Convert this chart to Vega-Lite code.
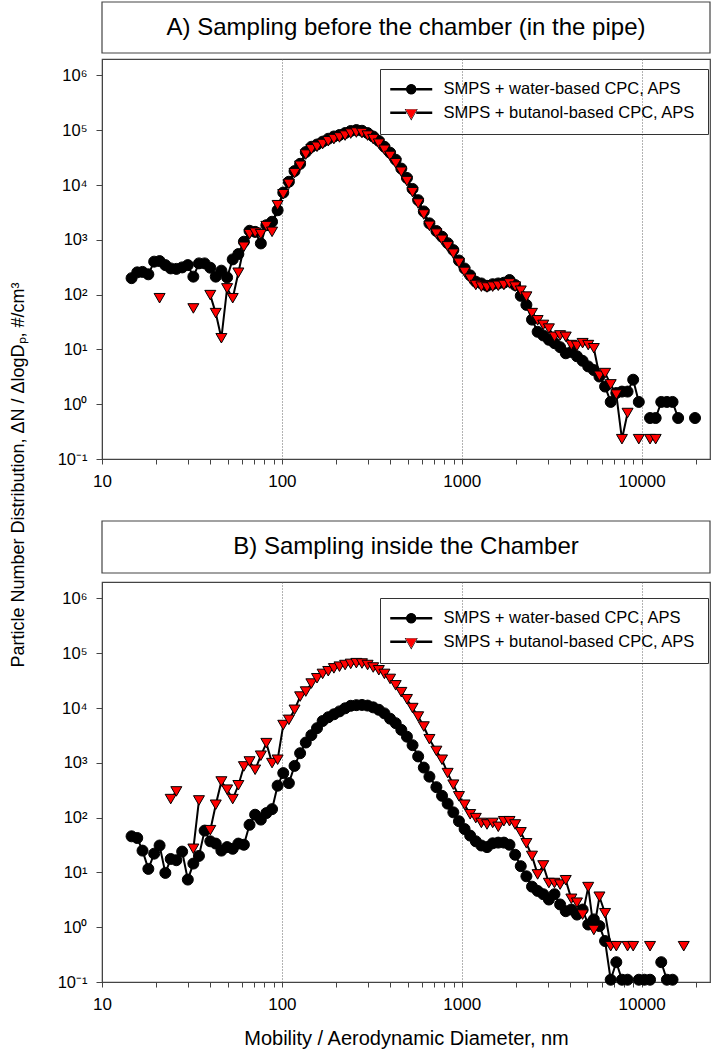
{
"$schema": "https://vega.github.io/schema/vega-lite/v6.json",
"padding": {"left": 9, "top": 1, "right": 5, "bottom": 1},
"title": {"text": "Particle Number Distribution, ΔN / ΔlogDₚ, #/cm³", "orient": "left", "anchor": "middle", "fontSize": 18, "fontWeight": "normal", "font": "Liberation Sans", "color": "black", "offset": 29, "dx": 50},
"config": {
  "view": {"stroke": "#444", "strokeWidth": 1.2},
  "font": "Liberation Sans",
  "axis": {"labelFont": "Liberation Sans", "titleFont": "Liberation Sans", "labelColor": "black", "titleColor": "black", "domainColor": "#444", "tickColor": "#444", "titleFontWeight": "normal"},
  "legend": {"title": null, "orient": "none", "legendX": 278, "strokeColor": "#333", "fillColor": "transparent", "padding": 12, "labelFontSize": 16.5, "labelFont": "Liberation Sans", "labelColor": "black", "labelOffset": 35, "labelLimit": 400, "symbolSize": 196, "symbolOpacity": 1, "symbolStrokeColor": "transparent", "symbolStrokeWidth": 0, "rowPadding": 6.5}
},
"resolve": {"scale": {"shape": "independent", "fill": "independent"}, "legend": {"shape": "independent", "fill": "independent"}},
"datasets": {
"pts": [
{"p":"A","s":"w","d":14.6,"v":200},{"p":"A","s":"w","d":15.7,"v":255},{"p":"A","s":"w","d":16.8,"v":260},{"p":"A","s":"w","d":18.1,"v":235},{"p":"A","s":"w","d":19.5,"v":400},{"p":"A","s":"w","d":20.9,"v":410},{"p":"A","s":"w","d":22.5,"v":346},{"p":"A","s":"w","d":24.1,"v":301},{"p":"A","s":"w","d":25.9,"v":295},{"p":"A","s":"w","d":27.9,"v":314},{"p":"A","s":"w","d":30.0,"v":346},{"p":"A","s":"w","d":32.2,"v":213},{"p":"A","s":"w","d":34.6,"v":372},{"p":"A","s":"w","d":37.2,"v":372},{"p":"A","s":"w","d":40.0,"v":310},{"p":"A","s":"w","d":42.9,"v":213},{"p":"A","s":"w","d":46.1,"v":274},{"p":"A","s":"w","d":49.6,"v":206},{"p":"A","s":"w","d":53.3,"v":440},{"p":"A","s":"w","d":57.3,"v":550},{"p":"A","s":"w","d":61.5,"v":925},{"p":"A","s":"w","d":66.1,"v":1465},{"p":"A","s":"w","d":71.0,"v":1400},{"p":"A","s":"w","d":76.4,"v":860},{"p":"A","s":"w","d":82.0,"v":1850},{"p":"A","s":"w","d":88.2,"v":2140},{"p":"A","s":"w","d":94.7,"v":3470},{"p":"A","s":"w","d":101.8,"v":7300},{"p":"A","s":"w","d":109.4,"v":11500},{"p":"A","s":"w","d":117.6,"v":18000},{"p":"A","s":"w","d":126.3,"v":24400},{"p":"A","s":"w","d":135.8,"v":40000},{"p":"A","s":"w","d":145.9,"v":50000},{"p":"A","s":"w","d":156.8,"v":55000},{"p":"A","s":"w","d":168.5,"v":62000},{"p":"A","s":"w","d":181.1,"v":70000},{"p":"A","s":"w","d":194.6,"v":77000},{"p":"A","s":"w","d":209.1,"v":82000},{"p":"A","s":"w","d":224.7,"v":89000},{"p":"A","s":"w","d":241.4,"v":97000},{"p":"A","s":"w","d":259.5,"v":101000},{"p":"A","s":"w","d":278.8,"v":98000},{"p":"A","s":"w","d":299.6,"v":89000},{"p":"A","s":"w","d":322.0,"v":77000},{"p":"A","s":"w","d":346.0,"v":64000},{"p":"A","s":"w","d":371.8,"v":50000},{"p":"A","s":"w","d":399.6,"v":39000},{"p":"A","s":"w","d":429.4,"v":29000},{"p":"A","s":"w","d":461.4,"v":20000},{"p":"A","s":"w","d":495.8,"v":13500},{"p":"A","s":"w","d":532.8,"v":8500},{"p":"A","s":"w","d":572.5,"v":5300},{"p":"A","s":"w","d":615.3,"v":3300},{"p":"A","s":"w","d":661.2,"v":2000},
{"p":"A","s":"w","d":723,"v":1450},{"p":"A","s":"w","d":777,"v":1140},{"p":"A","s":"w","d":835,"v":870},{"p":"A","s":"w","d":898,"v":650},{"p":"A","s":"w","d":965,"v":420},{"p":"A","s":"w","d":1037,"v":300},{"p":"A","s":"w","d":1114,"v":225},{"p":"A","s":"w","d":1197,"v":172},{"p":"A","s":"w","d":1286,"v":160},{"p":"A","s":"w","d":1382,"v":145},{"p":"A","s":"w","d":1486,"v":155},{"p":"A","s":"w","d":1596,"v":160},{"p":"A","s":"w","d":1715,"v":165},{"p":"A","s":"w","d":1843,"v":185},{"p":"A","s":"w","d":1981,"v":150},{"p":"A","s":"w","d":2129,"v":95},{"p":"A","s":"w","d":2288,"v":65},{"p":"A","s":"w","d":2458,"v":35},{"p":"A","s":"w","d":2642,"v":21},{"p":"A","s":"w","d":2839,"v":18},{"p":"A","s":"w","d":3051,"v":15},{"p":"A","s":"w","d":3278,"v":13},{"p":"A","s":"w","d":3523,"v":11},{"p":"A","s":"w","d":3786,"v":8.5},{"p":"A","s":"w","d":4068,"v":9},{"p":"A","s":"w","d":4371,"v":7.5},{"p":"A","s":"w","d":4698,"v":6.2},{"p":"A","s":"w","d":5048,"v":4.9},{"p":"A","s":"w","d":5425,"v":4.2},{"p":"A","s":"w","d":5829,"v":3.2},{"p":"A","s":"w","d":6264,"v":2.1},{"p":"A","s":"w","d":6732,"v":1.1},{"p":"A","s":"w","d":7234,"v":1.6},{"p":"A","s":"w","d":7774,"v":1.7},{"p":"A","s":"w","d":8354,"v":1.7},{"p":"A","s":"w","d":8977,"v":2.8},{"p":"A","s":"w","d":9647,"v":1.1},{"p":"A","s":"w","d":10370,"v":null},{"p":"A","s":"w","d":11140,"v":0.56},{"p":"A","s":"w","d":11970,"v":0.56},{"p":"A","s":"w","d":12860,"v":1.1},{"p":"A","s":"w","d":13820,"v":1.1},{"p":"A","s":"w","d":14860,"v":1.1},{"p":"A","s":"w","d":15960,"v":0.56},{"p":"A","s":"w","d":17150,"v":null},{"p":"A","s":"w","d":19810,"v":0.56},
{"p":"A","s":"b","d":20.9,"v":86},{"p":"A","s":"b","d":22.5,"v":null},{"p":"A","s":"b","d":32.2,"v":56},{"p":"A","s":"b","d":34.6,"v":null},{"p":"A","s":"b","d":40.0,"v":98},{"p":"A","s":"b","d":42.9,"v":46},{"p":"A","s":"b","d":46.1,"v":16},{"p":"A","s":"b","d":49.6,"v":130},{"p":"A","s":"b","d":53.3,"v":86},{"p":"A","s":"b","d":57.3,"v":251},{"p":"A","s":"b","d":61.5,"v":748},{"p":"A","s":"b","d":66.1,"v":1270},{"p":"A","s":"b","d":71.0,"v":1350},{"p":"A","s":"b","d":76.4,"v":1270},{"p":"A","s":"b","d":82.0,"v":1780},{"p":"A","s":"b","d":88.2,"v":1400},{"p":"A","s":"b","d":94.7,"v":4290},{"p":"A","s":"b","d":101.8,"v":6800},{"p":"A","s":"b","d":109.4,"v":10500},{"p":"A","s":"b","d":117.6,"v":16500},{"p":"A","s":"b","d":126.3,"v":22500},{"p":"A","s":"b","d":135.8,"v":36000},{"p":"A","s":"b","d":145.9,"v":45000},{"p":"A","s":"b","d":156.8,"v":50000},{"p":"A","s":"b","d":168.5,"v":56000},{"p":"A","s":"b","d":181.1,"v":63000},{"p":"A","s":"b","d":194.6,"v":69000},{"p":"A","s":"b","d":209.1,"v":74000},{"p":"A","s":"b","d":224.7,"v":80000},{"p":"A","s":"b","d":241.4,"v":87000},{"p":"A","s":"b","d":259.5,"v":91000},{"p":"A","s":"b","d":278.8,"v":89000},{"p":"A","s":"b","d":299.6,"v":80000},{"p":"A","s":"b","d":322.0,"v":69000},{"p":"A","s":"b","d":346.0,"v":57000},{"p":"A","s":"b","d":371.8,"v":44000},{"p":"A","s":"b","d":399.6,"v":34000},{"p":"A","s":"b","d":429.4,"v":25000},{"p":"A","s":"b","d":461.4,"v":17500},{"p":"A","s":"b","d":495.8,"v":11800},{"p":"A","s":"b","d":532.8,"v":7400},{"p":"A","s":"b","d":572.5,"v":4600},{"p":"A","s":"b","d":615.3,"v":2900},{"p":"A","s":"b","d":661.2,"v":1800},
{"p":"A","s":"b","d":723,"v":1300},{"p":"A","s":"b","d":777,"v":1000},{"p":"A","s":"b","d":835,"v":760},{"p":"A","s":"b","d":898,"v":560},{"p":"A","s":"b","d":965,"v":380},{"p":"A","s":"b","d":1037,"v":260},{"p":"A","s":"b","d":1114,"v":195},{"p":"A","s":"b","d":1197,"v":150},{"p":"A","s":"b","d":1286,"v":140},{"p":"A","s":"b","d":1382,"v":135},{"p":"A","s":"b","d":1486,"v":140},{"p":"A","s":"b","d":1596,"v":145},{"p":"A","s":"b","d":1715,"v":150},{"p":"A","s":"b","d":1843,"v":160},{"p":"A","s":"b","d":1981,"v":140},{"p":"A","s":"b","d":2129,"v":118},{"p":"A","s":"b","d":2288,"v":92},{"p":"A","s":"b","d":2458,"v":46},{"p":"A","s":"b","d":2642,"v":34},{"p":"A","s":"b","d":2839,"v":28},{"p":"A","s":"b","d":3051,"v":24},{"p":"A","s":"b","d":3278,"v":17},{"p":"A","s":"b","d":3523,"v":18},{"p":"A","s":"b","d":3786,"v":17},{"p":"A","s":"b","d":4068,"v":12},{"p":"A","s":"b","d":4371,"v":11.6},{"p":"A","s":"b","d":4698,"v":13},{"p":"A","s":"b","d":5048,"v":12},{"p":"A","s":"b","d":5425,"v":10.5},{"p":"A","s":"b","d":5829,"v":3.3},{"p":"A","s":"b","d":6264,"v":3.7},{"p":"A","s":"b","d":6732,"v":2.3},{"p":"A","s":"b","d":7234,"v":1.5},{"p":"A","s":"b","d":7774,"v":0.23},{"p":"A","s":"b","d":8354,"v":0.69},{"p":"A","s":"b","d":8977,"v":null},{"p":"A","s":"b","d":9647,"v":0.23},{"p":"A","s":"b","d":10370,"v":null},{"p":"A","s":"b","d":11140,"v":0.23},{"p":"A","s":"b","d":11970,"v":0.23},
{"p":"B","s":"w","d":14.6,"v":45.6},{"p":"B","s":"w","d":15.7,"v":42.5},{"p":"B","s":"w","d":16.8,"v":25},{"p":"B","s":"w","d":18.1,"v":11.6},{"p":"B","s":"w","d":19.5,"v":22},{"p":"B","s":"w","d":20.9,"v":31},{"p":"B","s":"w","d":22.5,"v":9.8},{"p":"B","s":"w","d":24.1,"v":17.6},{"p":"B","s":"w","d":25.9,"v":16.7},{"p":"B","s":"w","d":27.9,"v":24},{"p":"B","s":"w","d":30.0,"v":7.4},{"p":"B","s":"w","d":32.2,"v":14.5},{"p":"B","s":"w","d":34.6,"v":20},{"p":"B","s":"w","d":37.2,"v":58},{"p":"B","s":"w","d":40.0,"v":37},{"p":"B","s":"w","d":42.9,"v":33.6},{"p":"B","s":"w","d":46.1,"v":25},{"p":"B","s":"w","d":49.6,"v":29},{"p":"B","s":"w","d":53.3,"v":27},{"p":"B","s":"w","d":57.3,"v":33.6},{"p":"B","s":"w","d":61.5,"v":32},{"p":"B","s":"w","d":66.1,"v":74},{"p":"B","s":"w","d":71.0,"v":113},{"p":"B","s":"w","d":76.4,"v":92},{"p":"B","s":"w","d":82.0,"v":121},{"p":"B","s":"w","d":88.2,"v":143},{"p":"B","s":"w","d":94.7,"v":383},{"p":"B","s":"w","d":101.8,"v":650},{"p":"B","s":"w","d":109.4,"v":427},{"p":"B","s":"w","d":117.6,"v":880},{"p":"B","s":"w","d":126.3,"v":1500},{"p":"B","s":"w","d":135.8,"v":2350},{"p":"B","s":"w","d":145.9,"v":3200},{"p":"B","s":"w","d":156.8,"v":4300},{"p":"B","s":"w","d":168.5,"v":5800},{"p":"B","s":"w","d":181.1,"v":6800},{"p":"B","s":"w","d":194.6,"v":7700},{"p":"B","s":"w","d":209.1,"v":8700},{"p":"B","s":"w","d":224.7,"v":9900},{"p":"B","s":"w","d":241.4,"v":11000},{"p":"B","s":"w","d":259.5,"v":11300},{"p":"B","s":"w","d":278.8,"v":11400},{"p":"B","s":"w","d":299.6,"v":11100},{"p":"B","s":"w","d":322.0,"v":10300},{"p":"B","s":"w","d":346.0,"v":9300},{"p":"B","s":"w","d":371.8,"v":8000},{"p":"B","s":"w","d":399.6,"v":6400},{"p":"B","s":"w","d":429.4,"v":5300},{"p":"B","s":"w","d":461.4,"v":4000},{"p":"B","s":"w","d":495.8,"v":3000},{"p":"B","s":"w","d":532.8,"v":2100},{"p":"B","s":"w","d":572.5,"v":1310},{"p":"B","s":"w","d":615.3,"v":820},{"p":"B","s":"w","d":661.2,"v":560},
{"p":"B","s":"w","d":723,"v":360},{"p":"B","s":"w","d":777,"v":250},{"p":"B","s":"w","d":835,"v":180},{"p":"B","s":"w","d":898,"v":125},{"p":"B","s":"w","d":965,"v":86},{"p":"B","s":"w","d":1037,"v":62},{"p":"B","s":"w","d":1114,"v":47},{"p":"B","s":"w","d":1197,"v":37},{"p":"B","s":"w","d":1286,"v":31},{"p":"B","s":"w","d":1382,"v":29},{"p":"B","s":"w","d":1486,"v":34},{"p":"B","s":"w","d":1596,"v":35},{"p":"B","s":"w","d":1715,"v":35},{"p":"B","s":"w","d":1843,"v":32},{"p":"B","s":"w","d":1981,"v":21},{"p":"B","s":"w","d":2129,"v":13},{"p":"B","s":"w","d":2288,"v":8.5},{"p":"B","s":"w","d":2458,"v":5.5},{"p":"B","s":"w","d":2642,"v":4.6},{"p":"B","s":"w","d":2839,"v":4.0},{"p":"B","s":"w","d":3051,"v":3.2},{"p":"B","s":"w","d":3278,"v":4.0},{"p":"B","s":"w","d":3523,"v":2.6},{"p":"B","s":"w","d":3786,"v":1.96},{"p":"B","s":"w","d":4068,"v":2.1},{"p":"B","s":"w","d":4371,"v":1.7},{"p":"B","s":"w","d":4698,"v":2.1},{"p":"B","s":"w","d":5048,"v":1.12},{"p":"B","s":"w","d":5425,"v":1.39},{"p":"B","s":"w","d":5829,"v":1.05},{"p":"B","s":"w","d":6264,"v":0.56},{"p":"B","s":"w","d":6732,"v":0.11},{"p":"B","s":"w","d":7234,"v":0.23},{"p":"B","s":"w","d":7774,"v":0.11},{"p":"B","s":"w","d":8354,"v":0.11},{"p":"B","s":"w","d":8977,"v":null},{"p":"B","s":"w","d":9647,"v":0.11},{"p":"B","s":"w","d":10370,"v":0.11},{"p":"B","s":"w","d":11140,"v":0.11},{"p":"B","s":"w","d":11970,"v":null},{"p":"B","s":"w","d":12860,"v":0.23},{"p":"B","s":"w","d":13820,"v":0.11},{"p":"B","s":"w","d":14860,"v":0.11},
{"p":"B","s":"b","d":24.1,"v":218},{"p":"B","s":"b","d":25.9,"v":301},{"p":"B","s":"b","d":27.9,"v":null},{"p":"B","s":"b","d":32.2,"v":27},{"p":"B","s":"b","d":34.6,"v":206},{"p":"B","s":"b","d":37.2,"v":null},{"p":"B","s":"b","d":40.0,"v":59},{"p":"B","s":"b","d":42.9,"v":172},{"p":"B","s":"b","d":46.1,"v":457},{"p":"B","s":"b","d":49.6,"v":324},{"p":"B","s":"b","d":53.3,"v":218},{"p":"B","s":"b","d":57.3,"v":390},{"p":"B","s":"b","d":61.5,"v":860},{"p":"B","s":"b","d":66.1,"v":1060},{"p":"B","s":"b","d":71.0,"v":748},{"p":"B","s":"b","d":76.4,"v":1350},{"p":"B","s":"b","d":82.0,"v":2290},{"p":"B","s":"b","d":88.2,"v":990},{"p":"B","s":"b","d":94.7,"v":1140},{"p":"B","s":"b","d":101.8,"v":4900},{"p":"B","s":"b","d":109.4,"v":6100},{"p":"B","s":"b","d":117.6,"v":9300},{"p":"B","s":"b","d":126.3,"v":16200},{"p":"B","s":"b","d":135.8,"v":20000},{"p":"B","s":"b","d":145.9,"v":28000},{"p":"B","s":"b","d":156.8,"v":35000},{"p":"B","s":"b","d":168.5,"v":42000},{"p":"B","s":"b","d":181.1,"v":47000},{"p":"B","s":"b","d":194.6,"v":53000},{"p":"B","s":"b","d":209.1,"v":57000},{"p":"B","s":"b","d":224.7,"v":61000},{"p":"B","s":"b","d":241.4,"v":64000},{"p":"B","s":"b","d":259.5,"v":66000},{"p":"B","s":"b","d":278.8,"v":65000},{"p":"B","s":"b","d":299.6,"v":61000},{"p":"B","s":"b","d":322.0,"v":55000},{"p":"B","s":"b","d":346.0,"v":49000},{"p":"B","s":"b","d":371.8,"v":42000},{"p":"B","s":"b","d":399.6,"v":34000},{"p":"B","s":"b","d":429.4,"v":26000},{"p":"B","s":"b","d":461.4,"v":19500},{"p":"B","s":"b","d":495.8,"v":14500},{"p":"B","s":"b","d":532.8,"v":10000},{"p":"B","s":"b","d":572.5,"v":7000},{"p":"B","s":"b","d":615.3,"v":4600},{"p":"B","s":"b","d":661.2,"v":2700},
{"p":"B","s":"b","d":723,"v":1650},{"p":"B","s":"b","d":777,"v":1140},{"p":"B","s":"b","d":835,"v":650},{"p":"B","s":"b","d":898,"v":400},{"p":"B","s":"b","d":965,"v":245},{"p":"B","s":"b","d":1037,"v":172},{"p":"B","s":"b","d":1114,"v":115},{"p":"B","s":"b","d":1197,"v":98},{"p":"B","s":"b","d":1286,"v":80},{"p":"B","s":"b","d":1382,"v":75},{"p":"B","s":"b","d":1486,"v":80},{"p":"B","s":"b","d":1596,"v":68},{"p":"B","s":"b","d":1715,"v":86},{"p":"B","s":"b","d":1843,"v":86},{"p":"B","s":"b","d":1981,"v":75},{"p":"B","s":"b","d":2129,"v":54},{"p":"B","s":"b","d":2288,"v":34},{"p":"B","s":"b","d":2458,"v":20},{"p":"B","s":"b","d":2642,"v":9.2},{"p":"B","s":"b","d":2839,"v":13.4},{"p":"B","s":"b","d":3051,"v":6.4},{"p":"B","s":"b","d":3278,"v":6.4},{"p":"B","s":"b","d":3523,"v":6.0},{"p":"B","s":"b","d":3786,"v":7.2},{"p":"B","s":"b","d":4068,"v":3.3},{"p":"B","s":"b","d":4371,"v":2.8},{"p":"B","s":"b","d":4698,"v":1.7},{"p":"B","s":"b","d":5048,"v":5.4},{"p":"B","s":"b","d":5425,"v":0.89},{"p":"B","s":"b","d":5829,"v":3.6},{"p":"B","s":"b","d":6264,"v":1.8},{"p":"B","s":"b","d":6732,"v":0.45},{"p":"B","s":"b","d":7234,"v":0.45},{"p":"B","s":"b","d":7774,"v":null},{"p":"B","s":"b","d":8354,"v":0.45},{"p":"B","s":"b","d":8977,"v":0.45},{"p":"B","s":"b","d":9647,"v":null},{"p":"B","s":"b","d":11140,"v":0.45},{"p":"B","s":"b","d":11970,"v":null},{"p":"B","s":"b","d":17150,"v":0.45}
]
},
"spacing": 30,
"vconcat": [
 {"spacing": 4, "resolve": {"legend": {"shape": "independent", "fill": "independent"}}, "vconcat": [
  {"width": 608, "height": 51, "data": {"values": [{"t": "A) Sampling before the chamber (in the pipe)"}]},
   "layer": [
     {"mark": {"type": "rect", "fill": "white", "stroke": "#444", "strokeWidth": 1.2}, "encoding": {}},
     {"mark": {"type": "text", "fontSize": 24, "font": "Liberation Sans", "color": "black"}, "encoding": {"text": {"field": "t"}}}
   ]},
  {"width": 608, "height": 400, "data": {"name": "pts"},
   "transform": [{"filter": "datum.p === 'A'"}],
   "resolve": {"scale": {"shape": "independent", "fill": "independent"}, "legend": {"shape": "independent", "fill": "independent"}},
   "encoding": {
     "x": {"field": "d", "type": "quantitative", "scale": {"type": "log", "domain": [10, 24000], "nice": false},
       "axis": {"title": null, "values": [10,20,30,40,50,60,70,80,90,100,200,300,400,500,600,700,800,900,1000,2000,3000,4000,5000,6000,7000,8000,9000,10000,20000], "labelExpr": "datum.value == 10 || datum.value == 100 || datum.value == 1000 || datum.value == 10000 ? '' + datum.value : ''", "labelOverlap": false, "labelFlush": false, "labelFontSize": 17, "tickSize": 5, "labelPadding": 9, "grid": true, "gridColor": "#666", "gridDash": [1, 2], "gridOpacity": {"condition": {"test": "datum.value == 100 || datum.value == 1000 || datum.value == 10000", "value": 1}, "value": 0}}},
     "y": {"field": "v", "type": "quantitative", "scale": {"type": "log", "domain": [0.1, 2000000], "nice": false},
       "axis": {"title": null, "values": [0.1,1,10,100,1000,10000,100000,1000000], "labelExpr": "['10⁻¹','10⁰','10¹','10²','10³','10⁴','10⁵','10⁶'][round(log(datum.value)/LN10)+1]", "labelFontSize": 16.5, "tickSize": 6, "labelPadding": 9, "grid": false}}
   },
   "layer": [
     {"transform": [{"filter": "datum.s === 'w'"}], "mark": {"type": "line", "color": "black", "strokeWidth": 2, "invalid": "break-paths-filter-domains"}, "encoding": {}},
     {"transform": [{"filter": "datum.s === 'w'"}], "mark": {"type": "point", "shape": "circle", "filled": true, "fill": "black", "size": 121, "stroke": "black", "strokeWidth": 1, "opacity": 1}, "encoding": {}},
     {"transform": [{"filter": "datum.s === 'b'"}], "mark": {"type": "line", "color": "black", "strokeWidth": 2, "invalid": "break-paths-filter-domains"}, "encoding": {}},
     {"transform": [{"filter": "datum.s === 'b'"}], "mark": {"type": "point", "shape": "triangle-down", "filled": true, "fill": "#ff0000", "size": 121, "stroke": "black", "strokeWidth": 1, "opacity": 1}, "encoding": {}},
     {"mark": {"type": "point", "filled": true, "fill": "black", "size": 196, "opacity": 0},
      "encoding": {
        "shape": {"field": "s", "type": "nominal", "scale": {"domain": ["w", "b"], "range": ["M-1.43,-0.17H0.86V0.17H-1.43ZM2.28,-0.17H4.57V0.17H2.28ZM0.85,0A0.72,0.72,0,1,0,2.29,0A0.72,0.72,0,1,0,0.85,0Z", "M-1.43,-0.17H0.86V0.17H-1.43ZM2.28,-0.17H4.57V0.17H2.28ZM0.64,-0.52L2.50,-0.52L1.57,1.12ZM0.78,-0.45L1.57,0.91L2.36,-0.45Z"]}, "legend": {"legendY": 10, "labelOpacity": 0, "labelExpr": "datum.value === 'w' ? 'SMPS + water-based CPC, APS' : 'SMPS + butanol-based CPC, APS'"}}
      }},
     {"mark": {"type": "point", "filled": true, "size": 196, "opacity": 0},
      "encoding": {
        "shape": {"field": "s", "type": "nominal", "scale": {"domain": ["w", "b"], "range": ["M0.85,0A0.72,0.72,0,1,0,2.29,0A0.72,0.72,0,1,0,0.85,0Z", "M0.78,-0.45L2.36,-0.45L1.57,0.91Z"]}, "legend": {"legendY": 10, "strokeColor": "transparent", "labelExpr": "datum.value === 'w' ? 'SMPS + water-based CPC, APS' : 'SMPS + butanol-based CPC, APS'"}},
        "fill": {"field": "s", "type": "nominal", "scale": {"domain": ["w", "b"], "range": ["black", "#ff0000"]}, "legend": {"legendY": 10, "strokeColor": "transparent", "labelExpr": "datum.value === 'w' ? 'SMPS + water-based CPC, APS' : 'SMPS + butanol-based CPC, APS'"}}
      }}
   ]}
 ]},
 {"spacing": 7, "resolve": {"legend": {"shape": "independent", "fill": "independent"}}, "vconcat": [
  {"width": 608, "height": 52, "data": {"values": [{"t": "B) Sampling inside the Chamber"}]},
   "layer": [
     {"mark": {"type": "rect", "fill": "white", "stroke": "#444", "strokeWidth": 1.2}, "encoding": {}},
     {"mark": {"type": "text", "fontSize": 24, "font": "Liberation Sans", "color": "black"}, "encoding": {"text": {"field": "t"}}}
   ]},
  {"width": 608, "height": 400, "data": {"name": "pts"},
   "transform": [{"filter": "datum.p === 'B'"}],
   "resolve": {"scale": {"shape": "independent", "fill": "independent"}, "legend": {"shape": "independent", "fill": "independent"}},
   "encoding": {
     "x": {"field": "d", "type": "quantitative", "scale": {"type": "log", "domain": [10, 24000], "nice": false},
       "axis": {"title": "Mobility / Aerodynamic Diameter, nm", "titleFontSize": 20, "titlePadding": 16, "values": [10,20,30,40,50,60,70,80,90,100,200,300,400,500,600,700,800,900,1000,2000,3000,4000,5000,6000,7000,8000,9000,10000,20000], "labelExpr": "datum.value == 10 || datum.value == 100 || datum.value == 1000 || datum.value == 10000 ? '' + datum.value : ''", "labelOverlap": false, "labelFlush": false, "labelFontSize": 17, "tickSize": 5, "labelPadding": 9, "grid": true, "gridColor": "#666", "gridDash": [1, 2], "gridOpacity": {"condition": {"test": "datum.value == 100 || datum.value == 1000 || datum.value == 10000", "value": 1}, "value": 0}}},
     "y": {"field": "v", "type": "quantitative", "scale": {"type": "log", "domain": [0.1, 2000000], "nice": false},
       "axis": {"title": null, "values": [0.1,1,10,100,1000,10000,100000,1000000], "labelExpr": "['10⁻¹','10⁰','10¹','10²','10³','10⁴','10⁵','10⁶'][round(log(datum.value)/LN10)+1]", "labelFontSize": 16.5, "tickSize": 6, "labelPadding": 9, "grid": false}}
   },
   "layer": [
     {"transform": [{"filter": "datum.s === 'w'"}], "mark": {"type": "line", "color": "black", "strokeWidth": 2, "invalid": "break-paths-filter-domains"}, "encoding": {}},
     {"transform": [{"filter": "datum.s === 'w'"}], "mark": {"type": "point", "shape": "circle", "filled": true, "fill": "black", "size": 121, "stroke": "black", "strokeWidth": 1, "opacity": 1}, "encoding": {}},
     {"transform": [{"filter": "datum.s === 'b'"}], "mark": {"type": "line", "color": "black", "strokeWidth": 2, "invalid": "break-paths-filter-domains"}, "encoding": {}},
     {"transform": [{"filter": "datum.s === 'b'"}], "mark": {"type": "point", "shape": "triangle-down", "filled": true, "fill": "#ff0000", "size": 121, "stroke": "black", "strokeWidth": 1, "opacity": 1}, "encoding": {}},
     {"mark": {"type": "point", "filled": true, "fill": "black", "size": 196, "opacity": 0},
      "encoding": {
        "shape": {"field": "s", "type": "nominal", "scale": {"domain": ["w", "b"], "range": ["M-1.43,-0.17H0.86V0.17H-1.43ZM2.28,-0.17H4.57V0.17H2.28ZM0.85,0A0.72,0.72,0,1,0,2.29,0A0.72,0.72,0,1,0,0.85,0Z", "M-1.43,-0.17H0.86V0.17H-1.43ZM2.28,-0.17H4.57V0.17H2.28ZM0.64,-0.52L2.50,-0.52L1.57,1.12ZM0.78,-0.45L1.57,0.91L2.36,-0.45Z"]}, "legend": {"legendY": 16, "labelOpacity": 0, "labelExpr": "datum.value === 'w' ? 'SMPS + water-based CPC, APS' : 'SMPS + butanol-based CPC, APS'"}}
      }},
     {"mark": {"type": "point", "filled": true, "size": 196, "opacity": 0},
      "encoding": {
        "shape": {"field": "s", "type": "nominal", "scale": {"domain": ["w", "b"], "range": ["M0.85,0A0.72,0.72,0,1,0,2.29,0A0.72,0.72,0,1,0,0.85,0Z", "M0.78,-0.45L2.36,-0.45L1.57,0.91Z"]}, "legend": {"legendY": 16, "strokeColor": "transparent", "labelExpr": "datum.value === 'w' ? 'SMPS + water-based CPC, APS' : 'SMPS + butanol-based CPC, APS'"}},
        "fill": {"field": "s", "type": "nominal", "scale": {"domain": ["w", "b"], "range": ["black", "#ff0000"]}, "legend": {"legendY": 16, "strokeColor": "transparent", "labelExpr": "datum.value === 'w' ? 'SMPS + water-based CPC, APS' : 'SMPS + butanol-based CPC, APS'"}}
      }}
   ]}
 ]}
]
}
